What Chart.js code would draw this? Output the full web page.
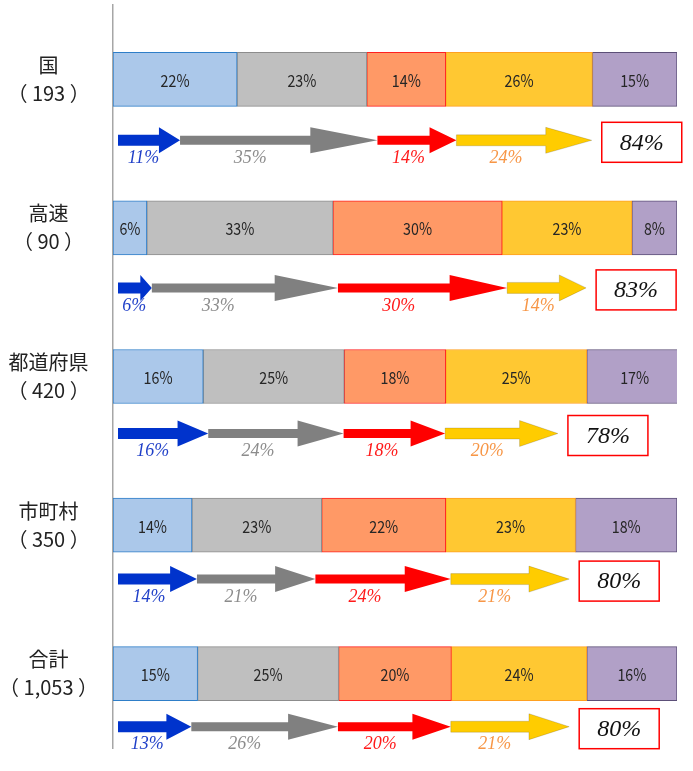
<!DOCTYPE html>
<html>
<head>
<meta charset="utf-8">
<script src="https://cdn.jsdelivr.net/npm/chart.js@4.4.1/dist/chart.umd.min.js"></script>
<style>
    html, body { margin: 0; padding: 0; background: #fff; }
    #wrap { width: 693px; height: 771px; }
</style>
</head>
<body>
<div id="wrap"><canvas id="chart"></canvas></div>
<script>
// 区分（件数）
const categories = [
    ['国', '（ 193 ）'],
    ['高速', '（ 90 ）'],
    ['都道府県', '（ 420 ）'],
    ['市町村', '（ 350 ）'],
    ['合計', '（ 1,053 ）']
];

// 構成比（%）
const seg1 = [22, 6, 16, 14, 15];
const seg2 = [23, 33, 25, 23, 25];
const seg3 = [14, 30, 18, 22, 20];
const seg4 = [26, 23, 25, 23, 24];
const seg5 = [15, 8, 17, 18, 16];

// 矢印（%）
const flow1 = [11, 6, 16, 14, 13];
const flow2 = [35, 33, 24, 21, 26];
const flow3 = [14, 30, 18, 24, 20];
const flow4 = [24, 14, 20, 21, 21];
const flowTotal = [84, 83, 78, 80, 80];

const segFill = ['#abc8ea', '#bfbfbf', '#ff9966', '#ffc832', '#b1a0c7'];
const segBorder = ['#2e7ec8', '#8c8c8c', '#ff2020', '#ffa020', '#5c4f78'];

const arrowColor = ['#0033cc', '#808080', '#ff0000', '#ffcc00'];
const arrowText = ['#1f3fc8', '#8c8c8c', '#ff1a1a', '#f79646'];
const shaftWidth = [11, 9, 9, 11];
const arrowDy = [61, 60, 57, 54, 53];

const segs = [seg1, seg2, seg3, seg4, seg5];
const flows = [flow1, flow2, flow3, flow4];

const datasets = segs.map((d, k) => ({
    data: d,
    backgroundColor: segFill[k],
    borderColor: segBorder[k],
    borderWidth: 1,
    borderSkipped: false,
    barThickness: 54
}));

// 棒の中のラベル
const barLabels = {
    id: 'barLabels',
    afterDatasetsDraw(chart) {
        const ctx = chart.ctx;
        ctx.save();
        ctx.font = '17px "Noto Sans CJK JP", sans-serif';
        ctx.fillStyle = '#262626';
        ctx.textAlign = 'center';
        ctx.textBaseline = 'middle';
        chart.data.datasets.forEach((ds, k) => {
            chart.getDatasetMeta(k).data.forEach((el, i) => {
                const p = el.getProps(['x', 'y', 'base'], true);
                ctx.save();
                ctx.translate((p.x + p.base) / 2, p.y + 1);
                ctx.scale(0.84, 1);
                ctx.fillText(ds.data[i] + '%', 0, 0);
                ctx.restore();
            });
        });
        ctx.restore();
    }
};

// 矢印と合計ボックス
const arrows = {
    id: 'arrows',
    afterDraw(chart) {
        const ctx = chart.ctx;
        const xs = chart.scales.x, ys = chart.scales.y;
        ctx.save();
        categories.forEach((c, i) => {
            const y = ys.getPixelForValue(i) + arrowDy[i];
            let cum = 0, end = 0;
            flows.forEach((f, k) => {
                const x0 = xs.getPixelForValue(cum) + 5;
                const x1 = xs.getPixelForValue(cum + f[i]) + 5;
                cum += f[i];
                end = x1;
                const head = (x1 - x0) * 0.34;
                const s = shaftWidth[k] / 2, h = 13;
                ctx.beginPath();
                ctx.moveTo(x0, y - s);
                ctx.lineTo(x1 - head, y - s);
                ctx.lineTo(x1 - head, y - h);
                ctx.lineTo(x1, y);
                ctx.lineTo(x1 - head, y + h);
                ctx.lineTo(x1 - head, y + s);
                ctx.lineTo(x0, y + s);
                ctx.closePath();
                ctx.fillStyle = arrowColor[k];
                ctx.fill();
                if (k === 3) {
                    ctx.strokeStyle = 'rgba(0,0,0,0.15)';
                    ctx.lineWidth = 1;
                    ctx.stroke();
                }
                ctx.font = 'italic 18px "Liberation Serif", serif';
                ctx.fillStyle = arrowText[k];
                ctx.textAlign = 'center';
                ctx.textBaseline = 'middle';
                ctx.fillText(f[i] + '%', x0 + (x1 - x0 - head) / 2 + 5, y + 18);
            });
            const bx = end + 10, bw = 80, bh = 40;
            ctx.fillStyle = '#fff';
            ctx.fillRect(bx, y - bh / 2 + 2, bw, bh);
            ctx.strokeStyle = '#ff0000';
            ctx.lineWidth = 1.5;
            ctx.strokeRect(bx, y - bh / 2 + 2, bw, bh);
            ctx.font = 'italic 24px "Liberation Serif", serif';
            ctx.fillStyle = '#111';
            ctx.textAlign = 'center';
            ctx.textBaseline = 'middle';
            ctx.fillText(flowTotal[i] + '%', bx + bw / 2, y + 3);
        });
        ctx.restore();
    }
};

new Chart(document.getElementById('chart'), {
    type: 'bar',
    data: { labels: categories, datasets: datasets },
    options: {
        indexAxis: 'y',
        responsive: true,
        maintainAspectRatio: false,
        animation: false,
        layout: { padding: { top: 5, bottom: 23, right: 16, left: 0 } },
        plugins: { legend: { display: false }, tooltip: { enabled: false } },
        scales: {
            x: {
                stacked: true,
                min: 0,
                max: 100,
                display: false
            },
            y: {
                stacked: true,
                grid: { display: false, drawTicks: false },
                border: { display: true, color: '#a6a6a6', width: 1.5 },
                ticks: {
                    crossAlign: 'center',
                    padding: 15,
                    color: '#222',
                    font: { family: '"Noto Sans CJK JP", sans-serif', size: 20, lineHeight: 1.4 }
                },
                afterFit(scale) {
                    scale.width = 113;
                    scale.paddingTop = 0;
                    scale.paddingBottom = 0;
                }
            }
        }
    },
    plugins: [barLabels, arrows]
});
</script>
</body>
</html>
